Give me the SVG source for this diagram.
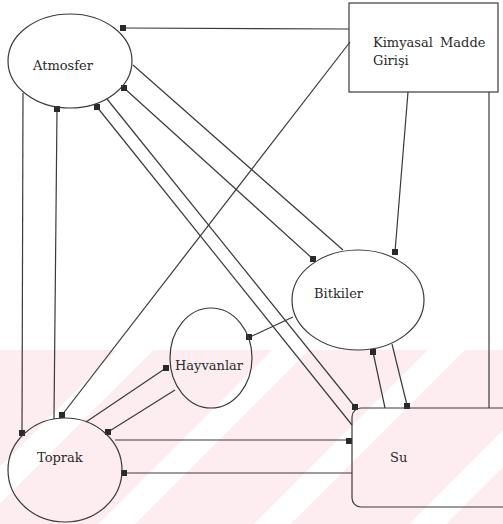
<svg xmlns="http://www.w3.org/2000/svg" width="503" height="524" viewBox="0 0 503 524">
<defs>
<pattern id="wm" patternUnits="userSpaceOnUse" width="110" height="110" patternTransform="rotate(-45)">
<rect width="110" height="110" fill="#fdedf0"/>
<rect x="0" y="0" width="110" height="26" fill="#ffffff"/>
</pattern>
</defs>
<style>
.n{fill:none;stroke:#3a3a3a;stroke-width:1.2}
.c line{stroke:#3a3a3a;stroke-width:1.2}
.m{fill:#2a2a2a}
text{font-family:"DejaVu Serif","Liberation Serif",serif;font-size:13px;fill:#2a2a2a}
</style>
<rect width="503" height="524" fill="#ffffff"/>
<rect x="0" y="350" width="503" height="174" fill="url(#wm)"/>
<g class="c" id="connectors">
<line x1="123" y1="28" x2="349" y2="29"/>
<line x1="350" y1="42" x2="62" y2="415"/>
<line x1="408" y1="92" x2="395" y2="252"/>
<line x1="489" y1="92" x2="489" y2="408"/>
<line x1="133" y1="65" x2="343" y2="250"/>
<line x1="124" y1="88" x2="313" y2="259"/>
<line x1="97" y1="107" x2="352" y2="425"/>
<line x1="107" y1="99" x2="355" y2="407"/>
<line x1="23" y1="93" x2="22" y2="433"/>
<line x1="57" y1="109" x2="54" y2="419"/>
<line x1="250" y1="337" x2="293" y2="317"/>
<line x1="166" y1="368" x2="86" y2="422"/>
<line x1="175" y1="390" x2="108" y2="432"/>
<line x1="115" y1="440" x2="349" y2="440"/>
<line x1="124" y1="473" x2="352" y2="473"/>
<line x1="373" y1="352" x2="385" y2="408"/>
<line x1="392" y1="344" x2="407" y2="405"/>
<rect class="m" x="120" y="25" width="6" height="6"/>
<rect class="m" x="121" y="85" width="6" height="6"/>
<rect class="m" x="94" y="104" width="6" height="6"/>
<rect class="m" x="54" y="106" width="6" height="6"/>
<rect class="m" x="310" y="256" width="6" height="6"/>
<rect class="m" x="392" y="249" width="6" height="6"/>
<rect class="m" x="246" y="334" width="6" height="6"/>
<rect class="m" x="163" y="365" width="6" height="6"/>
<rect class="m" x="59" y="412" width="6" height="6"/>
<rect class="m" x="19" y="430" width="6" height="6"/>
<rect class="m" x="105" y="429" width="6" height="6"/>
<rect class="m" x="121" y="470" width="6" height="6"/>
<rect class="m" x="346" y="438" width="6" height="6"/>
<rect class="m" x="352" y="404" width="6" height="6"/>
<rect class="m" x="370" y="349" width="6" height="6"/>
<rect class="m" x="404" y="403" width="6" height="6"/>
</g>
<g id="atmosfer">
<ellipse class="n" cx="70" cy="61" rx="62" ry="47"/>
<text x="33" y="70">Atmosfer</text>
</g>
<g id="kimyasal">
<rect class="n" x="349" y="3" width="149" height="89"/>
<text x="373" y="47" word-spacing="3">Kimyasal Madde</text>
<text x="373" y="65">Girişi</text>
</g>
<g id="bitkiler">
<ellipse class="n" cx="358" cy="300" rx="66" ry="50"/>
<text x="314" y="298">Bitkiler</text>
</g>
<g id="hayvanlar">
<ellipse class="n" cx="211" cy="358" rx="41" ry="50"/>
<text x="175" y="370">Hayvanlar</text>
</g>
<g id="toprak">
<ellipse class="n" cx="65" cy="470" rx="57" ry="52"/>
<text x="37" y="462">Toprak</text>
</g>
<g id="su">
<rect class="n" x="352" y="408" width="170" height="99" rx="9"/>
<text x="390" y="462">Su</text>
</g>
</svg>
